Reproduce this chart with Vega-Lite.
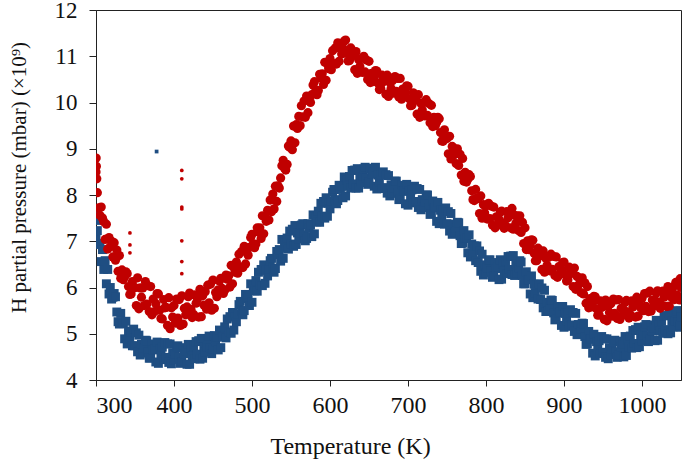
{
"$schema": "https://vega.github.io/schema/vega-lite/v6.json",
"width": 585,
"height": 370,
"autosize": {"type": "none"},
"padding": {"left": 96, "top": 10, "right": 4, "bottom": 87},
"background": "white",
"config": {
  "view": {"stroke": "#222222", "strokeWidth": 1},
  "font": "Liberation Serif",
  "axis": {"grid": false, "domainColor": "#222222", "tickColor": "#222222", "tickSize": 6, "labelFont": "Liberation Serif", "labelFontSize": 24, "labelColor": "#111111", "titleFont": "Liberation Serif", "titleFontSize": 22, "titleFontWeight": "normal", "titleColor": "#111111"}
},
"datasets": {
"blue": [
{"T":300,"v":7.08},{"T":301.7,"v":7.23},{"T":303.3,"v":6.93},{"T":300.2,"v":7.65},{"T":300.6,"v":7.45},
{"T":305,"v":6.95},{"T":306.7,"v":6.56},{"T":308.3,"v":6.82},
{"T":310,"v":6.39},{"T":311.7,"v":6.58},{"T":313.3,"v":6.08},
{"T":315,"v":6.39},{"T":316.7,"v":5.86},{"T":318.3,"v":6.0},
{"T":320,"v":5.75},{"T":321.7,"v":5.79},{"T":323.3,"v":5.87},
{"T":325,"v":5.8},{"T":326.7,"v":5.47},{"T":328.3,"v":5.26},
{"T":330,"v":5.21},{"T":331.7,"v":5.44},{"T":333.3,"v":5.25},
{"T":335,"v":5.22},{"T":336.7,"v":4.89},{"T":338.3,"v":5.27},
{"T":340,"v":4.78},{"T":341.7,"v":5.06},{"T":343.3,"v":4.88},
{"T":345,"v":5.03},{"T":346.7,"v":4.74},{"T":348.3,"v":5.1},
{"T":350,"v":4.74},{"T":351.7,"v":5.02},{"T":353.3,"v":4.61},
{"T":355,"v":4.97},{"T":356.7,"v":4.54},{"T":358.3,"v":4.77},
{"T":360,"v":4.58},{"T":361.7,"v":4.7},{"T":363.3,"v":4.86},
{"T":365,"v":4.85},{"T":366.7,"v":4.6},{"T":368.3,"v":4.47},
{"T":370,"v":4.48},{"T":371.7,"v":4.78},{"T":373.3,"v":4.65},
{"T":375,"v":4.67},{"T":376.7,"v":4.39},{"T":378.3,"v":4.82},
{"T":380,"v":4.36},{"T":381.7,"v":4.68},{"T":383.3,"v":4.54},
{"T":385,"v":4.71},{"T":386.7,"v":4.44},{"T":388.3,"v":4.81},
{"T":390,"v":4.49},{"T":391.7,"v":4.78},{"T":393.3,"v":4.38},
{"T":395,"v":4.78},{"T":396.7,"v":4.35},{"T":398.3,"v":4.59},
{"T":400,"v":4.44},{"T":401.7,"v":4.56},{"T":403.3,"v":4.72},
{"T":405,"v":4.74},{"T":406.7,"v":4.49},{"T":408.3,"v":4.36},
{"T":410,"v":4.4},{"T":411.7,"v":4.7},{"T":413.3,"v":4.57},
{"T":415,"v":4.62},{"T":416.7,"v":4.34},{"T":418.3,"v":4.77},
{"T":420,"v":4.34},{"T":421.7,"v":4.66},{"T":423.3,"v":4.52},
{"T":425,"v":4.73},{"T":426.7,"v":4.46},{"T":428.3,"v":4.83},
{"T":430,"v":4.56},{"T":431.7,"v":4.85},{"T":433.3,"v":4.45},
{"T":435,"v":4.9},{"T":436.7,"v":4.47},{"T":438.3,"v":4.71},
{"T":440,"v":4.6},{"T":441.7,"v":4.72},{"T":443.3,"v":4.88},
{"T":445,"v":4.95},{"T":446.7,"v":4.7},{"T":448.3,"v":4.57},
{"T":450,"v":4.66},{"T":451.7,"v":4.96},{"T":453.3,"v":4.83},
{"T":455,"v":4.93},{"T":456.7,"v":4.65},{"T":458.3,"v":5.08},
{"T":460,"v":4.7},{"T":461.7,"v":5.04},{"T":463.3,"v":4.93},
{"T":465,"v":5.15},{"T":466.7,"v":4.91},{"T":468.3,"v":5.32},
{"T":470,"v":5.04},{"T":471.7,"v":5.37},{"T":473.3,"v":5.01},
{"T":475,"v":5.46},{"T":476.7,"v":5.08},{"T":478.3,"v":5.36},
{"T":480,"v":5.26},{"T":481.7,"v":5.43},{"T":483.3,"v":5.63},
{"T":485,"v":5.7},{"T":486.7,"v":5.5},{"T":488.3,"v":5.41},
{"T":490,"v":5.5},{"T":491.7,"v":5.85},{"T":493.3,"v":5.76},
{"T":495,"v":5.85},{"T":496.7,"v":5.61},{"T":498.3,"v":6.08},
{"T":500,"v":5.68},{"T":501.7,"v":6.03},{"T":503.3,"v":5.93},
{"T":505,"v":6.15},{"T":506.7,"v":5.92},{"T":508.3,"v":6.33},
{"T":510,"v":6.06},{"T":511.7,"v":6.39},{"T":513.3,"v":6.04},
{"T":515,"v":6.49},{"T":516.7,"v":6.09},{"T":518.3,"v":6.37},
{"T":520,"v":6.25},{"T":521.7,"v":6.4},{"T":523.3,"v":6.58},
{"T":525,"v":6.63},{"T":526.7,"v":6.42},{"T":528.3,"v":6.33},
{"T":530,"v":6.41},{"T":531.7,"v":6.78},{"T":533.3,"v":6.71},
{"T":535,"v":6.82},{"T":536.7,"v":6.57},{"T":538.3,"v":7.04},
{"T":540,"v":6.63},{"T":541.7,"v":6.97},{"T":543.3,"v":6.85},
{"T":545,"v":7.07},{"T":546.7,"v":6.83},{"T":548.3,"v":7.22},
{"T":550,"v":6.94},{"T":551.7,"v":7.26},{"T":553.3,"v":6.89},
{"T":555,"v":7.34},{"T":556.7,"v":6.93},{"T":558.3,"v":7.18},
{"T":560,"v":7.05},{"T":561.7,"v":7.18},{"T":563.3,"v":7.35},
{"T":565,"v":7.38},{"T":566.7,"v":7.14},{"T":568.3,"v":7.01},
{"T":570,"v":7.06},{"T":571.7,"v":7.38},{"T":573.3,"v":7.28},
{"T":575,"v":7.35},{"T":576.7,"v":7.1},{"T":578.3,"v":7.57},
{"T":580,"v":7.16},{"T":581.7,"v":7.52},{"T":583.3,"v":7.42},
{"T":585,"v":7.65},{"T":586.7,"v":7.41},{"T":588.3,"v":7.82},
{"T":590,"v":7.54},{"T":591.7,"v":7.86},{"T":593.3,"v":7.5},
{"T":595,"v":7.94},{"T":596.7,"v":7.54},{"T":598.3,"v":7.82},
{"T":600,"v":7.7},{"T":601.7,"v":7.86},{"T":603.3,"v":8.06},
{"T":605,"v":8.12},{"T":606.7,"v":7.9},{"T":608.3,"v":7.81},
{"T":610,"v":7.88},{"T":611.7,"v":8.21},{"T":613.3,"v":8.12},
{"T":615,"v":8.19},{"T":616.7,"v":7.94},{"T":618.3,"v":8.39},
{"T":620,"v":7.98},{"T":621.7,"v":8.32},{"T":623.3,"v":8.19},
{"T":625,"v":8.4},{"T":626.7,"v":8.15},{"T":628.3,"v":8.53},
{"T":630,"v":8.24},{"T":631.7,"v":8.54},{"T":633.3,"v":8.15},
{"T":635,"v":8.57},{"T":636.7,"v":8.15},{"T":638.3,"v":8.4},
{"T":640,"v":8.27},{"T":641.7,"v":8.4},{"T":643.3,"v":8.56},
{"T":645,"v":8.6},{"T":646.7,"v":8.36},{"T":648.3,"v":8.23},
{"T":650,"v":8.28},{"T":651.7,"v":8.58},{"T":653.3,"v":8.45},
{"T":655,"v":8.49},{"T":656.7,"v":8.19},{"T":658.3,"v":8.6},
{"T":660,"v":8.13},{"T":661.7,"v":8.43},{"T":663.3,"v":8.29},
{"T":665,"v":8.43},{"T":666.7,"v":8.14},{"T":668.3,"v":8.5},
{"T":670,"v":8.16},{"T":671.7,"v":8.44},{"T":673.3,"v":8.04},
{"T":675,"v":8.42},{"T":676.7,"v":7.98},{"T":678.3,"v":8.22},
{"T":680,"v":8.04},{"T":681.7,"v":8.15},{"T":683.3,"v":8.3},
{"T":685,"v":8.3},{"T":686.7,"v":8.04},{"T":688.3,"v":7.9},
{"T":690,"v":7.92},{"T":691.7,"v":8.21},{"T":693.3,"v":8.08},
{"T":695,"v":8.09},{"T":696.7,"v":7.81},{"T":698.3,"v":8.23},
{"T":700,"v":7.78},{"T":701.7,"v":8.09},{"T":703.3,"v":7.95},
{"T":705,"v":8.11},{"T":706.7,"v":7.83},{"T":708.3,"v":8.19},
{"T":710,"v":7.86},{"T":711.7,"v":8.14},{"T":713.3,"v":7.73},
{"T":715,"v":8.12},{"T":716.7,"v":7.68},{"T":718.3,"v":7.9},
{"T":720,"v":7.74},{"T":721.7,"v":7.85},{"T":723.3,"v":8.0},
{"T":725,"v":8.0},{"T":726.7,"v":7.73},{"T":728.3,"v":7.58},
{"T":730,"v":7.6},{"T":731.7,"v":7.87},{"T":733.3,"v":7.72},
{"T":735,"v":7.73},{"T":736.7,"v":7.43},{"T":738.3,"v":7.84},
{"T":740,"v":7.38},{"T":741.7,"v":7.67},{"T":743.3,"v":7.51},
{"T":745,"v":7.67},{"T":746.7,"v":7.37},{"T":748.3,"v":7.72},
{"T":750,"v":7.38},{"T":751.7,"v":7.64},{"T":753.3,"v":7.22},
{"T":755,"v":7.6},{"T":756.7,"v":7.15},{"T":758.3,"v":7.37},
{"T":760,"v":7.2},{"T":761.7,"v":7.29},{"T":763.3,"v":7.41},
{"T":765,"v":7.4},{"T":766.7,"v":7.12},{"T":768.3,"v":6.95},
{"T":770,"v":6.96},{"T":771.7,"v":7.23},{"T":773.3,"v":7.06},
{"T":775,"v":7.07},{"T":776.7,"v":6.75},{"T":778.3,"v":7.14},
{"T":780,"v":6.66},{"T":781.7,"v":6.94},{"T":783.3,"v":6.75},
{"T":785,"v":6.9},{"T":786.7,"v":6.58},{"T":788.3,"v":6.9},
{"T":790,"v":6.54},{"T":791.7,"v":6.79},{"T":793.3,"v":6.35},
{"T":795,"v":6.72},{"T":796.7,"v":6.27},{"T":798.3,"v":6.49},
{"T":800,"v":6.32},{"T":801.7,"v":6.43},{"T":803.3,"v":6.59},
{"T":805,"v":6.6},{"T":806.7,"v":6.35},{"T":808.3,"v":6.22},
{"T":810,"v":6.24},{"T":811.7,"v":6.54},{"T":813.3,"v":6.41},
{"T":815,"v":6.45},{"T":816.7,"v":6.17},{"T":818.3,"v":6.6},
{"T":820,"v":6.18},{"T":821.7,"v":6.5},{"T":823.3,"v":6.36},
{"T":825,"v":6.57},{"T":826.7,"v":6.3},{"T":828.3,"v":6.67},
{"T":830,"v":6.39},{"T":831.7,"v":6.68},{"T":833.3,"v":6.28},
{"T":835,"v":6.69},{"T":836.7,"v":6.26},{"T":838.3,"v":6.5},
{"T":840,"v":6.32},{"T":841.7,"v":6.42},{"T":843.3,"v":6.58},
{"T":845,"v":6.55},{"T":846.7,"v":6.26},{"T":848.3,"v":6.08},
{"T":850,"v":6.08},{"T":851.7,"v":6.34},{"T":853.3,"v":6.17},
{"T":855,"v":6.17},{"T":856.7,"v":5.86},{"T":858.3,"v":6.25},
{"T":860,"v":5.78},{"T":861.7,"v":6.07},{"T":863.3,"v":5.89},
{"T":865,"v":6.05},{"T":866.7,"v":5.75},{"T":868.3,"v":6.08},
{"T":870,"v":5.74},{"T":871.7,"v":5.99},{"T":873.3,"v":5.56},
{"T":875,"v":5.94},{"T":876.7,"v":5.48},{"T":878.3,"v":5.68},
{"T":880,"v":5.5},{"T":881.7,"v":5.59},{"T":883.3,"v":5.73},
{"T":885,"v":5.72},{"T":886.7,"v":5.45},{"T":888.3,"v":5.3},
{"T":890,"v":5.31},{"T":891.7,"v":5.59},{"T":893.3,"v":5.45},
{"T":895,"v":5.47},{"T":896.7,"v":5.18},{"T":898.3,"v":5.59},
{"T":900,"v":5.14},{"T":901.7,"v":5.44},{"T":903.3,"v":5.28},
{"T":905,"v":5.45},{"T":906.7,"v":5.16},{"T":908.3,"v":5.52},
{"T":910,"v":5.19},{"T":911.7,"v":5.46},{"T":913.3,"v":5.05},
{"T":915,"v":5.44},{"T":916.7,"v":4.98},{"T":918.3,"v":5.2},
{"T":920,"v":5.02},{"T":921.7,"v":5.11},{"T":923.3,"v":5.23},
{"T":925,"v":5.22},{"T":926.7,"v":4.94},{"T":928.3,"v":4.77},
{"T":930,"v":4.78},{"T":931.7,"v":5.05},{"T":933.3,"v":4.88},
{"T":935,"v":4.89},{"T":936.7,"v":4.58},{"T":938.3,"v":4.99},
{"T":940,"v":4.52},{"T":941.7,"v":4.83},{"T":943.3,"v":4.68},
{"T":945,"v":4.85},{"T":946.7,"v":4.57},{"T":948.3,"v":4.94},
{"T":950,"v":4.6},{"T":951.7,"v":4.89},{"T":953.3,"v":4.49},
{"T":955,"v":4.89},{"T":956.7,"v":4.46},{"T":958.3,"v":4.7},
{"T":960,"v":4.55},{"T":961.7,"v":4.67},{"T":963.3,"v":4.83},
{"T":965,"v":4.86},{"T":966.7,"v":4.61},{"T":968.3,"v":4.49},
{"T":970,"v":4.54},{"T":971.7,"v":4.84},{"T":973.3,"v":4.72},
{"T":975,"v":4.77},{"T":976.7,"v":4.5},{"T":978.3,"v":4.94},
{"T":980,"v":4.53},{"T":981.7,"v":4.86},{"T":983.3,"v":4.72},
{"T":985,"v":4.95},{"T":986.7,"v":4.69},{"T":988.3,"v":5.07},
{"T":990,"v":4.79},{"T":991.7,"v":5.09},{"T":993.3,"v":4.7},
{"T":995,"v":5.14},{"T":996.7,"v":4.72},{"T":998.3,"v":4.98},
{"T":1000,"v":4.85},{"T":1001.7,"v":4.98},{"T":1003.3,"v":5.15},
{"T":1005,"v":5.2},{"T":1006.7,"v":4.96},{"T":1008.3,"v":4.83},
{"T":1010,"v":4.88},{"T":1011.7,"v":5.19},{"T":1013.3,"v":5.06},
{"T":1015,"v":5.12},{"T":1016.7,"v":4.85},{"T":1018.3,"v":5.29},
{"T":1020,"v":4.86},{"T":1021.7,"v":5.19},{"T":1023.3,"v":5.06},
{"T":1025,"v":5.27},{"T":1026.7,"v":5.01},{"T":1028.3,"v":5.39},
{"T":1030,"v":5.09},{"T":1031.7,"v":5.39},{"T":1033.3,"v":5.0},
{"T":1035,"v":5.44},{"T":1036.7,"v":5.02},{"T":1038.3,"v":5.27},
{"T":1040,"v":5.15},{"T":1041.7,"v":5.28},{"T":1043.3,"v":5.45},
{"T":1045,"v":5.5},{"T":1046.7,"v":5.26},{"T":1048.3,"v":5.14},
{"T":1049,"v":5.19},{"T":1049.5,"v":5.49},{"T":1050,"v":5.36}
],
"red": [
{"T":300,"v":8.5},{"T":301.7,"v":8.05},{"T":303.3,"v":7.72},{"T":300.2,"v":8.8},{"T":300.5,"v":8.62},{"T":301,"v":8.35},
{"T":305,"v":7.56},{"T":306.7,"v":7.74},{"T":308.3,"v":7.5},
{"T":310,"v":7.42},{"T":311.7,"v":7.04},{"T":313.3,"v":7.37},
{"T":315,"v":6.83},{"T":316.7,"v":7.08},{"T":318.3,"v":6.88},
{"T":320,"v":7.0},{"T":321.7,"v":6.66},{"T":323.3,"v":6.97},
{"T":325,"v":6.59},{"T":326.7,"v":6.81},{"T":328.3,"v":6.35},
{"T":330,"v":6.69},{"T":331.7,"v":6.2},{"T":333.3,"v":6.38},
{"T":335,"v":6.17},{"T":336.7,"v":6.23},{"T":338.3,"v":6.34},
{"T":340,"v":6.3},{"T":341.7,"v":6.02},{"T":343.3,"v":5.85},
{"T":345,"v":5.86},{"T":346.7,"v":6.13},{"T":348.3,"v":5.99},
{"T":350,"v":6.0},{"T":351.7,"v":5.61},{"T":353.3,"v":6.21},
{"T":355,"v":5.54},{"T":356.7,"v":5.99},{"T":358.3,"v":5.79},
{"T":360,"v":5.99},{"T":361.7,"v":5.61},{"T":363.3,"v":6.13},
{"T":365,"v":5.64},{"T":366.7,"v":6.04},{"T":368.3,"v":5.48},
{"T":370,"v":6.02},{"T":371.7,"v":5.41},{"T":373.3,"v":5.75},
{"T":375,"v":5.48},{"T":376.7,"v":5.65},{"T":378.3,"v":5.87},
{"T":380,"v":5.86},{"T":381.7,"v":5.51},{"T":383.3,"v":5.33},
{"T":385,"v":5.32},{"T":386.7,"v":5.74},{"T":388.3,"v":5.56},
{"T":390,"v":5.57},{"T":391.7,"v":5.18},{"T":393.3,"v":5.78},
{"T":395,"v":5.11},{"T":396.7,"v":5.56},{"T":398.3,"v":5.36},
{"T":400,"v":5.61},{"T":401.7,"v":5.23},{"T":403.3,"v":5.75},
{"T":405,"v":5.34},{"T":406.7,"v":5.74},{"T":408.3,"v":5.18},
{"T":410,"v":5.82},{"T":411.7,"v":5.21},{"T":413.3,"v":5.55},
{"T":415,"v":5.41},{"T":416.7,"v":5.58},{"T":418.3,"v":5.8},
{"T":420,"v":5.88},{"T":421.7,"v":5.53},{"T":423.3,"v":5.35},
{"T":425,"v":5.42},{"T":426.7,"v":5.84},{"T":428.3,"v":5.66},
{"T":430,"v":5.75},{"T":431.7,"v":5.36},{"T":433.3,"v":5.96},
{"T":435,"v":5.37},{"T":436.7,"v":5.82},{"T":438.3,"v":5.62},
{"T":440,"v":5.91},{"T":441.7,"v":5.53},{"T":443.3,"v":6.05},
{"T":445,"v":5.67},{"T":446.7,"v":6.07},{"T":448.3,"v":5.51},
{"T":450,"v":6.16},{"T":451.7,"v":5.55},{"T":453.3,"v":5.89},
{"T":455,"v":5.8},{"T":456.7,"v":5.95},{"T":458.3,"v":6.14},
{"T":460,"v":6.2},{"T":461.7,"v":5.98},{"T":463.3,"v":5.87},
{"T":465,"v":5.94},{"T":466.7,"v":6.27},{"T":468.3,"v":6.18},
{"T":470,"v":6.25},{"T":471.7,"v":6.01},{"T":473.3,"v":6.48},
{"T":475,"v":6.08},{"T":476.7,"v":6.43},{"T":478.3,"v":6.33},
{"T":480,"v":6.55},{"T":481.7,"v":6.31},{"T":483.3,"v":6.72},
{"T":485,"v":6.44},{"T":486.7,"v":6.78},{"T":488.3,"v":6.43},
{"T":490,"v":6.89},{"T":491.7,"v":6.51},{"T":493.3,"v":6.8},
{"T":495,"v":6.7},{"T":496.7,"v":6.87},{"T":498.3,"v":7.08},
{"T":500,"v":7.15},{"T":501.7,"v":6.94},{"T":503.3,"v":6.86},
{"T":505,"v":6.94},{"T":506.7,"v":7.29},{"T":508.3,"v":7.2},
{"T":510,"v":7.29},{"T":511.7,"v":7.06},{"T":513.3,"v":7.55},
{"T":515,"v":7.16},{"T":516.7,"v":7.53},{"T":518.3,"v":7.43},
{"T":520,"v":7.67},{"T":521.7,"v":7.46},{"T":523.3,"v":7.89},
{"T":525,"v":7.64},{"T":526.7,"v":8.02},{"T":528.3,"v":7.7},
{"T":530,"v":8.19},{"T":531.7,"v":7.86},{"T":533.3,"v":8.2},
{"T":535,"v":8.15},{"T":536.7,"v":8.37},{"T":538.3,"v":8.63},
{"T":540,"v":8.75},{"T":541.7,"v":8.58},{"T":543.3,"v":8.54},
{"T":545,"v":8.66},{"T":546.7,"v":9.06},{"T":548.3,"v":9.03},
{"T":550,"v":9.17},{"T":551.7,"v":8.98},{"T":553.3,"v":9.49},
{"T":555,"v":9.13},{"T":556.7,"v":9.52},{"T":558.3,"v":9.44},
{"T":560,"v":9.7},{"T":561.7,"v":9.5},{"T":563.3,"v":9.93},
{"T":565,"v":9.69},{"T":566.7,"v":10.03},{"T":568.3,"v":9.68},
{"T":570,"v":10.14},{"T":571.7,"v":9.78},{"T":573.3,"v":10.08},
{"T":575,"v":10.0},{"T":576.7,"v":10.17},{"T":578.3,"v":10.38},
{"T":580,"v":10.45},{"T":581.7,"v":10.25},{"T":583.3,"v":10.17},
{"T":585,"v":10.26},{"T":586.7,"v":10.61},{"T":588.3,"v":10.53},
{"T":590,"v":10.62},{"T":591.7,"v":10.39},{"T":593.3,"v":10.87},
{"T":595,"v":10.48},{"T":596.7,"v":10.83},{"T":598.3,"v":10.73},
{"T":600,"v":10.95},{"T":601.7,"v":10.71},{"T":603.3,"v":11.12},
{"T":605,"v":10.84},{"T":606.7,"v":11.18},{"T":608.3,"v":10.83},
{"T":610,"v":11.29},{"T":611.7,"v":10.89},{"T":613.3,"v":11.17},
{"T":615,"v":11.05},{"T":616.7,"v":11.17},{"T":618.3,"v":11.33},
{"T":620,"v":11.35},{"T":621.7,"v":11.07},{"T":623.3,"v":10.9},
{"T":625,"v":10.91},{"T":626.7,"v":11.18},{"T":628.3,"v":11.01},
{"T":630,"v":11.02},{"T":631.7,"v":10.71},{"T":633.3,"v":11.1},
{"T":635,"v":10.63},{"T":636.7,"v":10.93},{"T":638.3,"v":10.78},
{"T":640,"v":10.95},{"T":641.7,"v":10.65},{"T":643.3,"v":11.0},
{"T":645,"v":10.66},{"T":646.7,"v":10.92},{"T":648.3,"v":10.5},
{"T":650,"v":10.89},{"T":651.7,"v":10.43},{"T":653.3,"v":10.63},
{"T":655,"v":10.45},{"T":656.7,"v":10.55},{"T":658.3,"v":10.69},
{"T":660,"v":10.68},{"T":661.7,"v":10.42},{"T":663.3,"v":10.28},
{"T":665,"v":10.31},{"T":666.7,"v":10.59},{"T":668.3,"v":10.45},
{"T":670,"v":10.47},{"T":671.7,"v":10.18},{"T":673.3,"v":10.59},
{"T":675,"v":10.13},{"T":676.7,"v":10.44},{"T":678.3,"v":10.3},
{"T":680,"v":10.47},{"T":681.7,"v":10.2},{"T":683.3,"v":10.56},
{"T":685,"v":10.24},{"T":686.7,"v":10.52},{"T":688.3,"v":10.12},
{"T":690,"v":10.52},{"T":691.7,"v":10.07},{"T":693.3,"v":10.29},
{"T":695,"v":10.12},{"T":696.7,"v":10.22},{"T":698.3,"v":10.36},
{"T":700,"v":10.35},{"T":701.7,"v":10.08},{"T":703.3,"v":9.93},
{"T":705,"v":9.94},{"T":706.7,"v":10.21},{"T":708.3,"v":10.05},
{"T":710,"v":10.05},{"T":711.7,"v":9.75},{"T":713.3,"v":10.17},
{"T":715,"v":9.68},{"T":716.7,"v":9.98},{"T":718.3,"v":9.84},
{"T":720,"v":10.0},{"T":721.7,"v":9.71},{"T":723.3,"v":10.06},
{"T":725,"v":9.72},{"T":726.7,"v":9.98},{"T":728.3,"v":9.56},
{"T":730,"v":9.94},{"T":731.7,"v":9.48},{"T":733.3,"v":9.68},
{"T":735,"v":9.5},{"T":736.7,"v":9.57},{"T":738.3,"v":9.68},
{"T":740,"v":9.65},{"T":741.7,"v":9.35},{"T":743.3,"v":9.17},
{"T":745,"v":9.16},{"T":746.7,"v":9.41},{"T":748.3,"v":9.23},
{"T":750,"v":9.22},{"T":751.7,"v":8.89},{"T":753.3,"v":9.27},
{"T":755,"v":8.78},{"T":756.7,"v":9.05},{"T":758.3,"v":8.86},
{"T":760,"v":9.0},{"T":761.7,"v":8.68},{"T":763.3,"v":9.0},
{"T":765,"v":8.64},{"T":766.7,"v":8.88},{"T":768.3,"v":8.43},
{"T":770,"v":8.79},{"T":771.7,"v":8.3},{"T":773.3,"v":8.49},
{"T":775,"v":8.28},{"T":776.7,"v":8.34},{"T":778.3,"v":8.44},
{"T":780,"v":8.4},{"T":781.7,"v":8.09},{"T":783.3,"v":7.9},
{"T":785,"v":7.88},{"T":786.7,"v":8.12},{"T":788.3,"v":7.94},
{"T":790,"v":7.92},{"T":791.7,"v":7.6},{"T":793.3,"v":7.98},
{"T":795,"v":7.5},{"T":796.7,"v":7.79},{"T":798.3,"v":7.61},
{"T":800,"v":7.77},{"T":801.7,"v":7.48},{"T":803.3,"v":7.82},
{"T":805,"v":7.49},{"T":806.7,"v":7.76},{"T":808.3,"v":7.35},
{"T":810,"v":7.74},{"T":811.7,"v":7.29},{"T":813.3,"v":7.53},
{"T":815,"v":7.35},{"T":816.7,"v":7.47},{"T":818.3,"v":7.63},
{"T":820,"v":7.65},{"T":821.7,"v":7.4},{"T":823.3,"v":7.28},
{"T":825,"v":7.34},{"T":826.7,"v":7.64},{"T":828.3,"v":7.51},
{"T":830,"v":7.57},{"T":831.7,"v":7.29},{"T":833.3,"v":7.71},
{"T":835,"v":7.26},{"T":836.7,"v":7.56},{"T":838.3,"v":7.39},
{"T":840,"v":7.55},{"T":841.7,"v":7.23},{"T":843.3,"v":7.55},
{"T":845,"v":7.19},{"T":846.7,"v":7.41},{"T":848.3,"v":6.95},
{"T":850,"v":7.29},{"T":851.7,"v":6.82},{"T":853.3,"v":7.01},
{"T":855,"v":6.82},{"T":856.7,"v":6.91},{"T":858.3,"v":7.03},
{"T":860,"v":7.02},{"T":861.7,"v":6.74},{"T":863.3,"v":6.58},
{"T":865,"v":6.58},{"T":866.7,"v":6.85},{"T":868.3,"v":6.69},
{"T":870,"v":6.69},{"T":871.7,"v":6.39},{"T":873.3,"v":6.79},
{"T":875,"v":6.33},{"T":876.7,"v":6.63},{"T":878.3,"v":6.48},
{"T":880,"v":6.65},{"T":881.7,"v":6.36},{"T":883.3,"v":6.72},
{"T":885,"v":6.39},{"T":886.7,"v":6.67},{"T":888.3,"v":6.26},
{"T":890,"v":6.66},{"T":891.7,"v":6.22},{"T":893.3,"v":6.45},
{"T":895,"v":6.28},{"T":896.7,"v":6.39},{"T":898.3,"v":6.54},
{"T":900,"v":6.55},{"T":901.7,"v":6.28},{"T":903.3,"v":6.14},
{"T":905,"v":6.16},{"T":906.7,"v":6.44},{"T":908.3,"v":6.3},
{"T":910,"v":6.32},{"T":911.7,"v":6.02},{"T":913.3,"v":6.42},
{"T":915,"v":5.96},{"T":916.7,"v":6.24},{"T":918.3,"v":6.05},
{"T":920,"v":6.2},{"T":921.7,"v":5.89},{"T":923.3,"v":6.21},
{"T":925,"v":5.86},{"T":926.7,"v":6.1},{"T":928.3,"v":5.66},
{"T":930,"v":6.02},{"T":931.7,"v":5.56},{"T":933.3,"v":5.76},
{"T":935,"v":5.58},{"T":936.7,"v":5.67},{"T":938.3,"v":5.81},
{"T":940,"v":5.8},{"T":941.7,"v":5.54},{"T":943.3,"v":5.4},
{"T":945,"v":5.41},{"T":946.7,"v":5.71},{"T":948.3,"v":5.57},
{"T":950,"v":5.59},{"T":951.7,"v":5.31},{"T":953.3,"v":5.73},
{"T":955,"v":5.28},{"T":956.7,"v":5.6},{"T":958.3,"v":5.46},
{"T":960,"v":5.65},{"T":961.7,"v":5.38},{"T":963.3,"v":5.75},
{"T":965,"v":5.44},{"T":966.7,"v":5.73},{"T":968.3,"v":5.33},
{"T":970,"v":5.74},{"T":971.7,"v":5.31},{"T":973.3,"v":5.55},
{"T":975,"v":5.4},{"T":976.7,"v":5.52},{"T":978.3,"v":5.68},
{"T":980,"v":5.72},{"T":981.7,"v":5.47},{"T":983.3,"v":5.34},
{"T":985,"v":5.41},{"T":986.7,"v":5.71},{"T":988.3,"v":5.58},
{"T":990,"v":5.64},{"T":991.7,"v":5.36},{"T":993.3,"v":5.79},
{"T":995,"v":5.38},{"T":996.7,"v":5.7},{"T":998.3,"v":5.56},
{"T":1000,"v":5.77},{"T":1001.7,"v":5.5},{"T":1003.3,"v":5.87},
{"T":1005,"v":5.59},{"T":1006.7,"v":5.88},{"T":1008.3,"v":5.48},
{"T":1010,"v":5.92},{"T":1011.7,"v":5.49},{"T":1013.3,"v":5.73},
{"T":1015,"v":5.6},{"T":1016.7,"v":5.72},{"T":1018.3,"v":5.88},
{"T":1020,"v":5.93},{"T":1021.7,"v":5.68},{"T":1023.3,"v":5.55},
{"T":1025,"v":5.62},{"T":1026.7,"v":5.92},{"T":1028.3,"v":5.79},
{"T":1030,"v":5.87},{"T":1031.7,"v":5.59},{"T":1033.3,"v":6.02},
{"T":1035,"v":5.6},{"T":1036.7,"v":5.92},{"T":1038.3,"v":5.78},
{"T":1040,"v":6.01},{"T":1041.7,"v":5.74},{"T":1043.3,"v":6.11},
{"T":1045,"v":5.84},{"T":1046.7,"v":6.13},{"T":1048.3,"v":5.73},
{"T":1049,"v":6.19},{"T":1049.5,"v":5.76},{"T":1050,"v":6.0}
],
"blue_out": [{"T":377.7,"v":8.94}],
"red_out": [
{"T":343.5,"v":7.18},{"T":343.5,"v":6.92},{"T":343.5,"v":6.75},
{"T":410,"v":8.53},{"T":410,"v":8.35},{"T":410,"v":7.74},{"T":410,"v":7.7},{"T":410,"v":7.01},{"T":410,"v":6.56},{"T":410,"v":6.3}
]
},
"encoding": {
  "x": {"field": "T", "type": "quantitative", "scale": {"domain": [300, 1050], "nice": false, "zero": false},
        "axis": {"values": [300,400,500,600,700,800,900,1000], "format": "d", "title": "Temperature (K)", "titleFontSize": 24, "labelPadding": 7, "titleX": 254, "titleY": 73, "titleAlign": "center", "titleBaseline": "alphabetic", "titleAnchor": null}},
  "y": {"field": "v", "type": "quantitative", "scale": {"domain": [4, 12], "nice": false, "zero": false},
        "axis": {"values": [4,5,6,7,8,9,10,11,12], "format": "d", "labelFontSize": 23, "title": "H partial pressure (mbar) (×10⁹)", "titleFontSize": 21, "tickSize": 7, "labelPadding": 12, "titleX": -71, "titleY": 167, "titleAlign": "center", "titleBaseline": "alphabetic", "titleAngle": -90}}
},
"layer": [
  {"data": {"name": "blue"}, "mark": {"type": "point", "shape": "square", "filled": true, "size": 80, "opacity": 1, "color": "#1F4E82", "clip": true}},
  {"data": {"name": "blue_out"}, "mark": {"type": "point", "shape": "square", "filled": true, "size": 14, "opacity": 1, "color": "#1F4E82", "clip": true}},
  {"data": {"name": "red"}, "mark": {"type": "point", "shape": "circle", "filled": true, "size": 85, "opacity": 1, "color": "#C00000", "clip": true}},
  {"data": {"name": "red_out"}, "mark": {"type": "point", "shape": "circle", "filled": true, "size": 14, "opacity": 1, "color": "#C00000", "clip": true}}
]
}
